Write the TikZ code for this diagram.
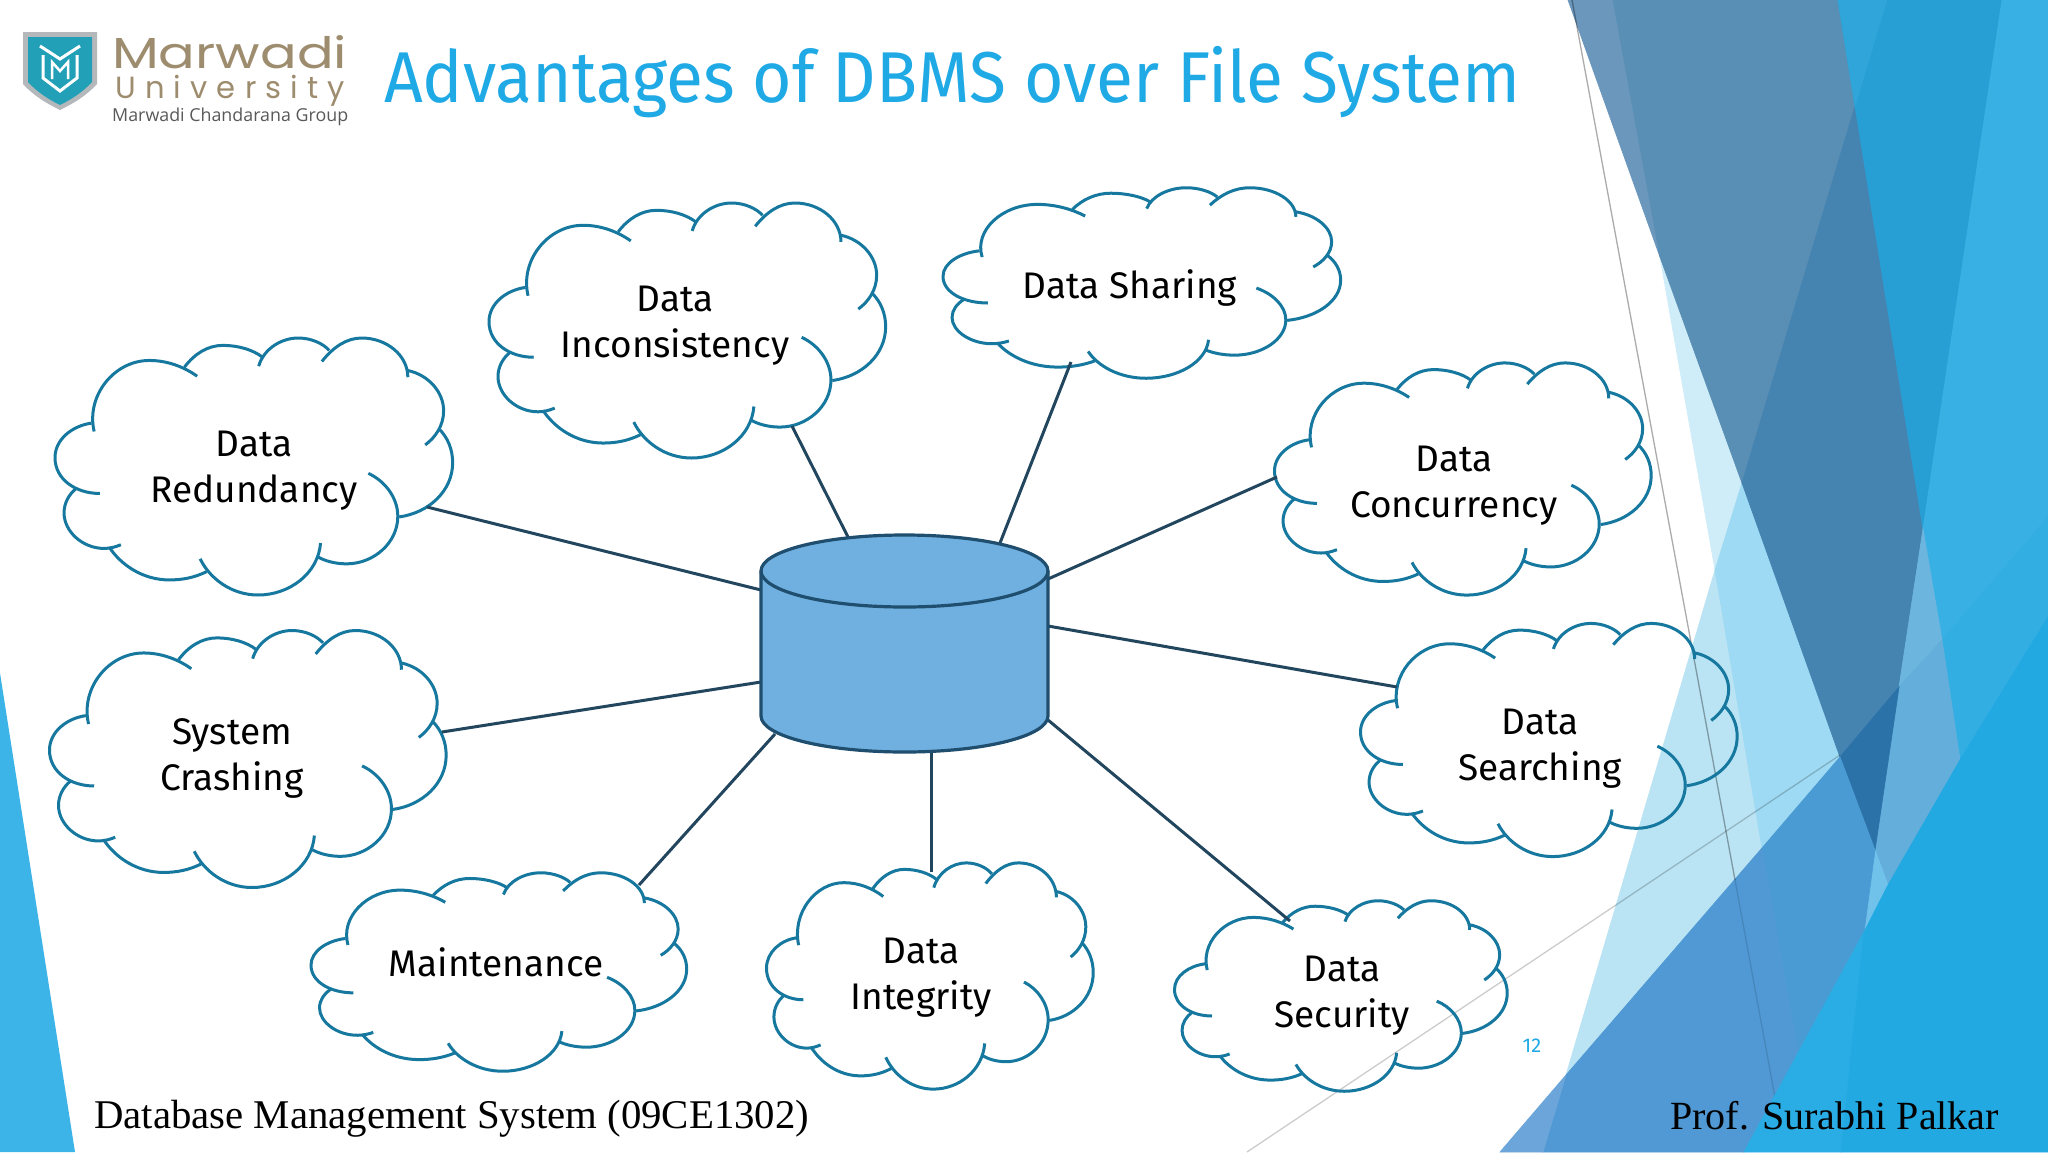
\documentclass[tikz,border=0pt]{standalone}
\usepackage{fontspec}
\setmainfont{Fira Sans}
\newfontfamily\footfont{Liberation Serif}
\newfontfamily\logofont{Poppins}
\newfontfamily\grpfont{Open Sans}
\definecolor{titleblue}{HTML}{1FA9E5}
\definecolor{cloudblue}{HTML}{17789F}
\definecolor{linkdark}{HTML}{23465F}
\definecolor{dbfill}{HTML}{70B0E0}
\definecolor{dbline}{HTML}{1F4E6E}
\definecolor{logobrown}{HTML}{9E8C6E}
\definecolor{logoteal}{HTML}{22A0B8}
\definecolor{logogrey}{HTML}{B5B8BA}
\definecolor{sidestrip}{HTML}{3DB4E8}
\definecolor{paleA}{HTML}{CFEDF8}
\definecolor{paleB}{HTML}{BAE4F4}
\definecolor{paleC}{HTML}{9EDAF3}
\definecolor{steelA}{HTML}{6B97BC}
\definecolor{steelB}{HTML}{5A8FB5}
\definecolor{steelC}{HTML}{4583B1}
\definecolor{steelD}{HTML}{2B72A8}
\definecolor{skyA}{HTML}{279FD5}
\definecolor{skyB}{HTML}{2FA5D9}
\definecolor{skyC}{HTML}{38B0E4}
\definecolor{skyD}{HTML}{33AEE2}
\definecolor{midA}{HTML}{6BB5DE}
\definecolor{midB}{HTML}{63AEDB}
\definecolor{midC}{HTML}{71C2EA}
\definecolor{lowA}{HTML}{4A9BD3}
\definecolor{lowB}{HTML}{5099D4}
\definecolor{lowC}{HTML}{6CA5D9}
\definecolor{brightA}{HTML}{22A9E2}
\definecolor{brightB}{HTML}{2AADE4}
\tikzset{
  facet/.style={fill=#1, draw=#1, line width=0.7pt},
  cloudline/.style={color=cloudblue, line width=3pt},
  cloudtext/.style={font=\fontsize{37}{46}\selectfont, align=center, inner sep=0pt, text=black},
  link/.style={color=linkdark, line width=3pt},
  dbnode/.style={rectangle, minimum height=217pt, minimum width=287pt, inner sep=0pt, outer sep=0pt},
  dbbody/.style={draw=dbline, line width=3.2pt, line join=round},
  footer/.style={font=\footfont\fontsize{40}{46}\selectfont, anchor=base west, inner sep=0pt, text=black},
  facetline/.style={color=black, opacity=0.33, line width=1.3pt},
  logotext/.style={anchor=base west, inner sep=0pt, text=logobrown}
}
\newcommand{\cloudshape}[4]{
  \begin{scope}[shift={(#1,#2)}, xscale=#3/1190, yscale=#4/773, shift={(-683,-451.5)}]
    \draw [cloudline] (205,347) .. controls (180,240) and (265,135) .. (370,135) .. controls (425,135) and (475,155) .. (513,182);
    \draw [cloudline] (475,155) .. controls (505,115) and (545,90) .. (590,90) .. controls (635,90) and (680,103) .. (708,125);
    \draw [cloudline] (697,152) .. controls (712,100) and (765,68) .. (815,68) .. controls (855,68) and (890,85) .. (908,105);
    \draw [cloudline] (886,138) .. controls (920,95) and (960,68) .. (1005,68) .. controls (1080,68) and (1143,120) .. (1143,185);
    \draw [cloudline] (1143,165) .. controls (1205,178) and (1250,230) .. (1250,285) .. controls (1250,330) and (1225,365) .. (1195,387);
    \draw [cloudline] (1237,340) .. controls (1262,365) and (1277,400) .. (1277,440) .. controls (1277,525) and (1205,590) .. (1117,602);
    \draw [cloudline] (1025,472) .. controls (1075,495) and (1113,545) .. (1113,600) .. controls (1113,680) and (1040,742) .. (960,742) .. controls (925,742) and (895,733) .. (875,722);
    \draw [cloudline] (882,680) .. controls (875,770) and (790,835) .. (695,835) .. controls (615,835) and (550,785) .. (522,727);
    \draw [cloudline] (542,765) .. controls (505,783) and (470,790) .. (430,790) .. controls (350,790) and (285,745) .. (250,692);
    \draw [cloudline] (285,685) .. controls (268,692) and (252,696) .. (235,696) .. controls (170,696) and (115,645) .. (115,590) .. controls (115,560) and (130,535) .. (150,518);
    \draw [cloudline] (222,532) .. controls (150,532) and (88,490) .. (88,425) .. controls (88,370) and (140,330) .. (197,322);
  \end{scope}
}
\begin{document}
\begin{tikzpicture}[x=1pt, y=-1pt]
  \useasboundingbox (0,0) rectangle (2048,1152);
  \fill [white] (0,0) rectangle (2048,1152);
  % background facets
  \fill [sidestrip] (0,673) -- (75,1152) -- (0,1152) -- cycle;
  \path [facet=paleB] (1715,570) -- (1762,848) -- (1566,1075) -- cycle;
  \path [facet=paleA] (1660,257) -- (1742,483) -- (1715,570) -- cycle;
  \path [facet=paleC] (1715,570) -- (1742,483) -- (1840,757) -- (1762,848) -- cycle;
  \path [facet=steelA] (1568,0) -- (1613,0) -- (1660,257) -- cycle;
  \path [facet=steelB] (1613,0) -- (1838,0) -- (1855,106) -- (1742,483) -- (1660,257) -- cycle;
  \path [facet=steelC] (1855,106) -- (1742,483) -- (1840,757) -- (1899,687) -- (1923,529) -- cycle;
  \path [facet=skyA] (1838,0) -- (2002,0) -- (1923,529) -- cycle;
  \path [facet=skyB] (1838,0) -- (1887,0) -- (1855,106) -- cycle;
  \path [facet=skyC] (2002,0) -- (2048,0) -- (2048,517) -- (1942,640) -- (1923,529) -- cycle;
  \path [facet=skyD] (2048,517) -- (1942,640) -- (1960,760) -- (2048,617) -- cycle;
  \path [facet=midA] (1923,529) -- (1942,640) -- (1899,687) -- cycle;
  \path [facet=midB] (1942,640) -- (1960,760) -- (1888,885) -- (1875,850) -- (1899,687) -- cycle;
  \path [facet=steelD] (1899,687) -- (1875,850) -- (1840,757) -- cycle;
  \path [facet=midC] (1875,850) -- (1888,885) -- (1864,932) -- cycle;
  \path [facet=lowA] (1840,757) -- (1875,850) -- (1864,932) -- (1798,1053) -- (1762,848) -- cycle;
  \path [facet=lowB] (1762,848) -- (1798,1053) -- (1744,1152) -- (1543,1152) -- (1566,1075) -- cycle;
  \path [facet=lowC] (1500,1152) -- (1566,1075) -- (1543,1152) -- cycle;
  \draw [facetline] (1572,0) -- (1735,880);
  \draw [facetline, opacity=0.12] (1735,880) -- (1785,1152);
  \draw [facetline, opacity=0.2] (1247,1152) -- (1840,755);
  \path [facet=brightB] (1864,932) -- (1841,1152) -- (1744,1152) -- cycle;
  \path [facet=brightA] (2048,617) -- (1960,760) -- (1888,885) -- (1864,932) -- (1841,1152) -- (2048,1152) -- cycle;
  % logo
  \fill [logogrey] (23,32) -- (97,32) -- (97,84) .. controls (85,97) and (72,104) .. (60,110) .. controls (48,104) and (35,97) .. (23,84) -- cycle;
  \fill [logoteal] (28,37) -- (92,37) -- (92,82) .. controls (82,93) and (70,100) .. (60,105) .. controls (50,100) and (38,93) .. (28,82) -- cycle;
  \draw [white, line width=3pt] (40,46) -- (60,59) -- (80,46);
  \draw [white, line width=3pt] (43,55) -- (43,78) -- (60,91) -- (77,78) -- (77,55);
  \draw [white, line width=2.5pt] (52,79) -- (52,62) -- (60,71) -- (68,62) -- (68,79);
  \node [logotext] (logoname) at (112,68) {\resizebox{235pt}{33pt}{\logofont Marwadi}};
  \node [logotext] (logouni) at (115,98) {\resizebox{230pt}{!}{\logofont\fontsize{30}{30}\selectfont\addfontfeatures{LetterSpace=30}University}};
  \node [logotext, text=black!65] (logogroup) at (112,121) {\resizebox{236pt}{!}{\grpfont\fontsize{18}{18}\selectfont Marwadi Chandarana Group}};
  % title
  \node [anchor=base west, inner sep=0pt, text=titleblue, font=\fontsize{72}{80}\selectfont] (title) at (384,102) {\scalebox{0.94}[1]{Advantages of DBMS over File System}};
  % clouds
  \cloudshape{254}{466.5}{398}{259}
  \cloudshape{687.5}{330.5}{397}{257}
  \cloudshape{1142}{283}{398}{192}
  \cloudshape{1463}{479}{377}{234}
  \cloudshape{1549}{740}{377}{235}
  \cloudshape{1341}{996}{333}{192}
  \cloudshape{930}{976}{327}{228}
  \cloudshape{499}{972}{376}{200}
  \cloudshape{248}{759}{397}{259}
  \node [cloudtext] (redundancy) at (254,470.5) {Data\\Redundancy};
  \node [cloudtext] (inconsistency) at (675,325.5) {Data\\Inconsistency};
  \node [cloudtext] (sharing) at (1130,288) {Data Sharing};
  \node [cloudtext] (concurrency) at (1454,485.5) {Data\\Concurrency};
  \node [cloudtext] (searching) at (1540,748.5) {Data\\Searching};
  \node [cloudtext] (security) at (1342,995.5) {Data\\Security};
  \node [cloudtext] (integrity) at (921,977.5) {Data\\Integrity};
  \node [cloudtext] (maintenance) at (496,962) {Maintenance};
  \node [cloudtext] (crashing) at (232,758) {System\\Crashing};
  % database
  \node [dbnode] (db) at (904.5,643.5) {};
  \draw [link] ([shift={(-143.5,-53.5)}]db.center) -- ([shift={(173,36.5)}]redundancy.center);
  \draw [link] ([shift={(-56.5,-106.5)}]db.center) -- ([shift={(117,100.5)}]inconsistency.center);
  \draw [link] ([shift={(95.5,-100.5)}]db.center) -- ([shift={(-59,74)}]sharing.center);
  \draw [link] ([shift={(143.5,-64.5)}]db.center) -- ([shift={(-177,-8.5)}]concurrency.center);
  \draw [link] ([shift={(143.5,-17.5)}]db.center) -- ([shift={(-143,-61.5)}]searching.center);
  \draw [link] ([shift={(143.5,76.5)}]db.center) -- ([shift={(-52,-74.5)}]security.center);
  \draw [link] ([shift={(26.5,108.5)}]db.center) -- ([shift={(10,-105.5)}]integrity.center);
  \draw [link] ([shift={(-129.5,90.5)}]db.center) -- ([shift={(143,-77)}]maintenance.center);
  \draw [link] ([shift={(-143.5,38.5)}]db.center) -- ([shift={(210,-26)}]crashing.center);
  \draw [dbbody, fill=dbfill] ([shift={(0,36)}]db.north west) -- ([shift={(0,-36)}]db.south west) .. controls +(0,20) and +(-80,0) .. (db.south) .. controls +(80,0) and +(0,20) .. ([shift={(0,-36)}]db.south east) -- ([shift={(0,36)}]db.north east) .. controls +(0,-20) and +(80,0) .. (db.north) .. controls +(-80,0) and +(0,-20) .. cycle;
  \draw [dbbody] ([shift={(0,36)}]db.north west) .. controls +(0,20) and +(-80,0) .. ([shift={(0,72)}]db.north) .. controls +(80,0) and +(0,20) .. ([shift={(0,36)}]db.north east);
  % footer
  \node [footer, font=\footfont\fontsize{40.8}{46}\selectfont] (course) at (94,1128) {Database Management System (09CE1302)};
  \node [footer] (teacher) at (1670,1129) {Prof. Surabhi Palkar};
  \node [inner sep=0pt, text=titleblue, font=\fontsize{20}{20}\selectfont] (pageno) at (1532,1046) {12};
\end{tikzpicture}
\end{document}
